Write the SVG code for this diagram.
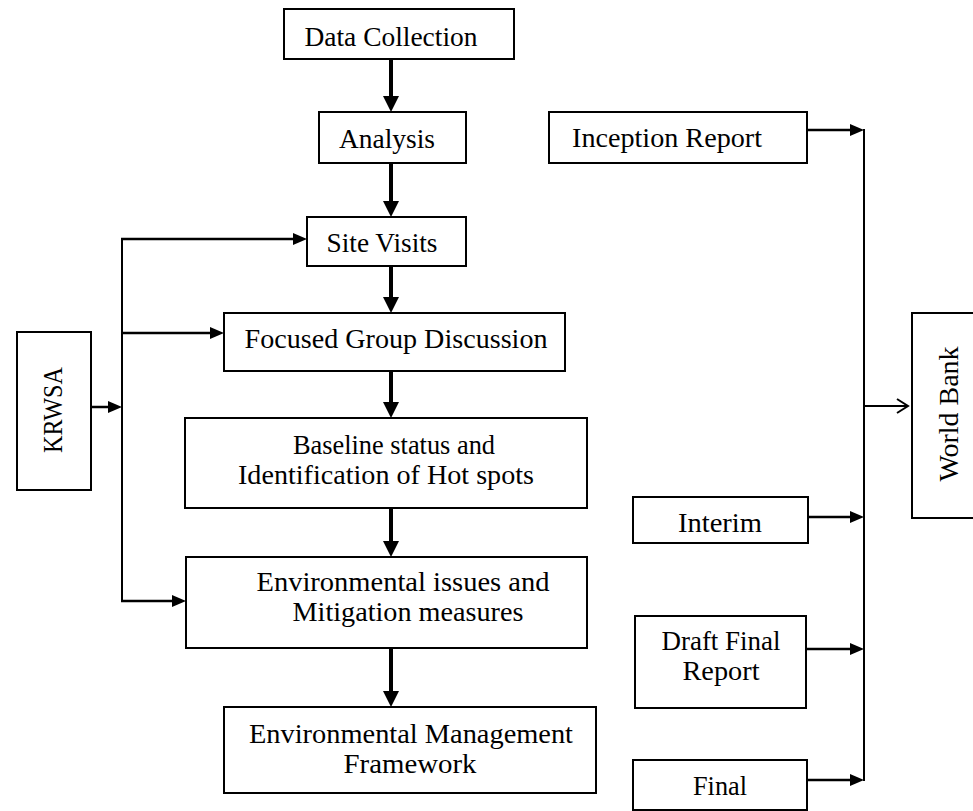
<svg xmlns="http://www.w3.org/2000/svg" width="973" height="811" viewBox="0 0 973 811">
<style>
.box{fill:#fff;stroke:#000;stroke-width:2}
.t{font-family:"Liberation Serif","Times New Roman",serif;font-size:28px;fill:#000;text-anchor:middle}
.main{stroke:#000;stroke-width:4;fill:none}
.side{stroke:#000;stroke-width:2.5;fill:none}
.thin{stroke:#000;stroke-width:2;fill:none}
</style>
<defs>
<marker id="bigHead" markerUnits="userSpaceOnUse" markerWidth="16" markerHeight="16" refX="6" refY="8" orient="auto">
<path d="M0,0 L16,8 L0,16 z" fill="#000"/>
</marker>
<marker id="smallHead" markerUnits="userSpaceOnUse" markerWidth="14" markerHeight="12" refX="6" refY="6" orient="auto">
<path d="M0,0 L14,6 L0,12 z" fill="#000"/>
</marker>
<marker id="openHead" markerUnits="userSpaceOnUse" markerWidth="14" markerHeight="16" refX="12" refY="8" orient="auto">
<path d="M1,1 L12,8 L1,15" fill="none" stroke="#000" stroke-width="2"/>
</marker>
</defs>
<rect width="973" height="811" fill="#fff"/>

<g id="connectors">
<line class="main" x1="391" y1="59" x2="391" y2="102" marker-end="url(#bigHead)"/>
<line class="main" x1="391" y1="163" x2="391" y2="207" marker-end="url(#bigHead)"/>
<line class="main" x1="391" y1="266" x2="391" y2="303" marker-end="url(#bigHead)"/>
<line class="main" x1="391" y1="371" x2="391" y2="408" marker-end="url(#bigHead)"/>
<line class="main" x1="391" y1="508" x2="391" y2="547" marker-end="url(#bigHead)"/>
<line class="main" x1="391" y1="648" x2="391" y2="697" marker-end="url(#bigHead)"/>
<line class="side" x1="91" y1="407" x2="114" y2="407" marker-end="url(#smallHead)"/>
<line class="thin" x1="122" y1="238" x2="122" y2="602"/>
<line class="side" x1="121" y1="239" x2="299" y2="239" marker-end="url(#smallHead)"/>
<line class="side" x1="121" y1="333" x2="216" y2="333" marker-end="url(#smallHead)"/>
<line class="side" x1="121" y1="601" x2="178" y2="601" marker-end="url(#smallHead)"/>
<line class="side" x1="807" y1="130" x2="856" y2="130" marker-end="url(#smallHead)"/>
<line class="side" x1="808" y1="517" x2="856" y2="517" marker-end="url(#smallHead)"/>
<line class="side" x1="806" y1="649" x2="856" y2="649" marker-end="url(#smallHead)"/>
<line class="side" x1="807" y1="780" x2="856" y2="780" marker-end="url(#smallHead)"/>
<line class="thin" x1="864" y1="129" x2="864" y2="781"/>
<line class="thin" x1="864" y1="406" x2="908" y2="406" marker-end="url(#openHead)"/>
</g>

<g id="data-collection">
<rect class="box" x="284" y="9" width="230" height="50"/>
<text class="t" x="391" y="46" textLength="173" lengthAdjust="spacingAndGlyphs">Data Collection</text>
</g>
<g id="analysis">
<rect class="box" x="319" y="112" width="147" height="51"/>
<text class="t" x="387" y="148" textLength="96" lengthAdjust="spacingAndGlyphs">Analysis</text>
</g>
<g id="site-visits">
<rect class="box" x="307" y="217" width="159" height="49"/>
<text class="t" x="382" y="252" textLength="111" lengthAdjust="spacingAndGlyphs">Site Visits</text>
</g>
<g id="focused-group">
<rect class="box" x="224" y="313" width="341" height="58"/>
<text class="t" x="396" y="348" textLength="303" lengthAdjust="spacingAndGlyphs">Focused Group Discussion</text>
</g>
<g id="baseline">
<rect class="box" x="185" y="418" width="402" height="90"/>
<text class="t" x="394" y="454" textLength="202" lengthAdjust="spacingAndGlyphs">Baseline status and</text>
<text class="t" x="386" y="484" textLength="296" lengthAdjust="spacingAndGlyphs">Identification of Hot spots</text>
</g>
<g id="env-issues">
<rect class="box" x="186" y="557" width="401" height="91"/>
<text class="t" x="403" y="591" textLength="293" lengthAdjust="spacingAndGlyphs">Environmental issues and</text>
<text class="t" x="408" y="621" textLength="231" lengthAdjust="spacingAndGlyphs">Mitigation measures</text>
</g>
<g id="emf">
<rect class="box" x="224" y="707" width="372" height="86"/>
<text class="t" x="411" y="743" textLength="324" lengthAdjust="spacingAndGlyphs">Environmental Management</text>
<text class="t" x="410" y="773" textLength="133" lengthAdjust="spacingAndGlyphs">Framework</text>
</g>
<g id="krwsa">
<rect class="box" x="17" y="332" width="74" height="158"/>
<text class="t" transform="translate(62,410) rotate(-90)" x="0" y="0" textLength="86" lengthAdjust="spacingAndGlyphs">KRWSA</text>
</g>
<g id="inception-report">
<rect class="box" x="549" y="112" width="258" height="51"/>
<text class="t" x="667" y="147" textLength="190" lengthAdjust="spacingAndGlyphs">Inception Report</text>
</g>
<g id="interim">
<rect class="box" x="633" y="497" width="175" height="46"/>
<text class="t" x="720" y="532" textLength="84" lengthAdjust="spacingAndGlyphs">Interim</text>
</g>
<g id="draft-final-report">
<rect class="box" x="635" y="616" width="171" height="92"/>
<text class="t" x="721" y="650" textLength="119" lengthAdjust="spacingAndGlyphs">Draft Final</text>
<text class="t" x="721" y="680" textLength="77" lengthAdjust="spacingAndGlyphs">Report</text>
</g>
<g id="final">
<rect class="box" x="633" y="760" width="174" height="50"/>
<text class="t" x="720" y="795" textLength="54" lengthAdjust="spacingAndGlyphs">Final</text>
</g>
<g id="world-bank">
<rect class="box" x="912" y="313" width="70" height="205"/>
<text class="t" transform="translate(958,414) rotate(-90)" x="0" y="0" textLength="135" lengthAdjust="spacingAndGlyphs">World Bank</text>
</g>
</svg>
